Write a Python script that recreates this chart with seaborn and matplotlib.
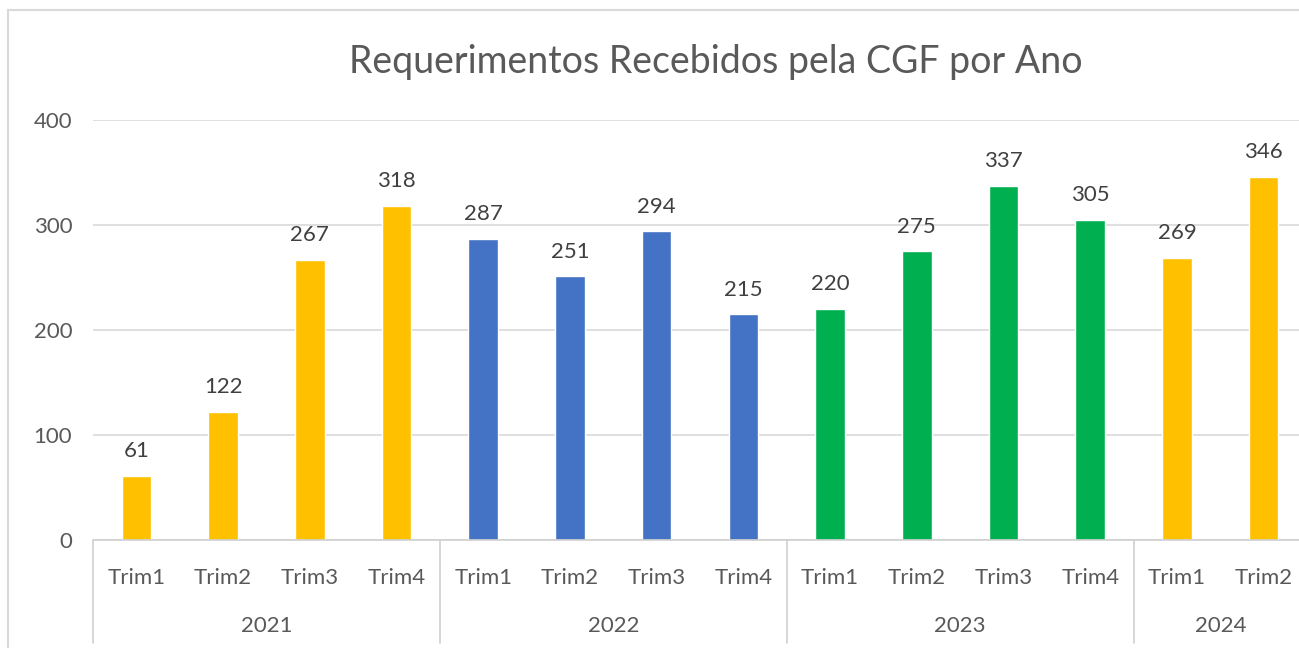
import pandas as pd
import seaborn as sns
import matplotlib.pyplot as plt
from matplotlib.lines import Line2D
from matplotlib.transforms import blended_transform_factory

# dados
anos = ['2021', '2021', '2021', '2021',
        '2022', '2022', '2022', '2022',
        '2023', '2023', '2023', '2023',
        '2024', '2024']
trimestres = ['Trim1', 'Trim2', 'Trim3', 'Trim4',
              'Trim1', 'Trim2', 'Trim3', 'Trim4',
              'Trim1', 'Trim2', 'Trim3', 'Trim4',
              'Trim1', 'Trim2']
valores = [61, 122, 267, 318, 287, 251, 294, 215, 220, 275, 337, 305, 269, 346]
cores_ano = {'2021': '#FFC000', '2022': '#4472C4', '2023': '#00B050', '2024': '#FFC000'}

df = pd.DataFrame({'ano': anos, 'trim': trimestres, 'valor': valores})
df['pos'] = df['ano'] + '-' + df['trim']

sns.set_style("white")
plt.rcParams['font.family'] = ['Lato', 'DejaVu Sans']

fig = plt.figure(figsize=(12.99, 6.48), dpi=100)
ax = fig.add_axes([93/1299, 108/648, 1214/1299, 420/648])

sns.barplot(data=df, x='pos', y='valor', hue='ano', palette=cores_ano,
            dodge=False, width=0.34, legend=False, ax=ax, saturation=1)

ax.set_ylim(0, 400)
ax.set_xlim(-0.5, len(df) - 0.5)
ax.set_yticks([0, 100, 200, 300, 400])
ax.yaxis.grid(True, color='#d9d9d9', linewidth=1.2)
ax.set_axisbelow(True)
for s in ['top', 'right', 'left']:
    ax.spines[s].set_visible(False)
ax.spines['bottom'].set_color('#d0d0d0')
ax.spines['bottom'].set_linewidth(1.2)

ax.tick_params(axis='y', length=0, pad=15, labelsize=16, labelcolor='#595959')
ax.tick_params(axis='x', length=0, pad=20, labelsize=16, labelcolor='#595959')
ax.set_xticks(range(len(df)))
ax.set_xticklabels(df['trim'])
ax.set_xlabel('')
ax.set_ylabel('')

# rotulos de dados
for i, v in enumerate(valores):
    ax.text(i, v + 14, str(v), ha='center', va='bottom', fontsize=16, color='#404040')

# eixo de categorias em dois niveis
trans = blended_transform_factory(ax.transData, ax.transAxes)
grupos = df.groupby('ano', sort=False).size()
inicio = -0.5
for ano, n in grupos.items():
    ax.add_line(Line2D([inicio, inicio], [0, -0.245], transform=trans,
                       color='#d0d0d0', linewidth=1.2, clip_on=False))
    ax.text(inicio + n / 2, -0.205, ano, transform=trans, ha='center', va='center',
            fontsize=16, color='#595959')
    inicio += n

# moldura do grafico
fig.add_artist(Line2D([8/1299, 8/1299], [0, 1 - 10/648], color='#d9d9d9', linewidth=1.5))
fig.add_artist(Line2D([8/1299, 1], [1 - 10/648, 1 - 10/648], color='#d9d9d9', linewidth=1.5))

fig.text(716/1299, 1 - 62/648, 'Requerimentos Recebidos pela CGF por Ano',
         ha='center', va='center', fontsize=27, color='#595959')

plt.savefig('out.png', dpi=100)
